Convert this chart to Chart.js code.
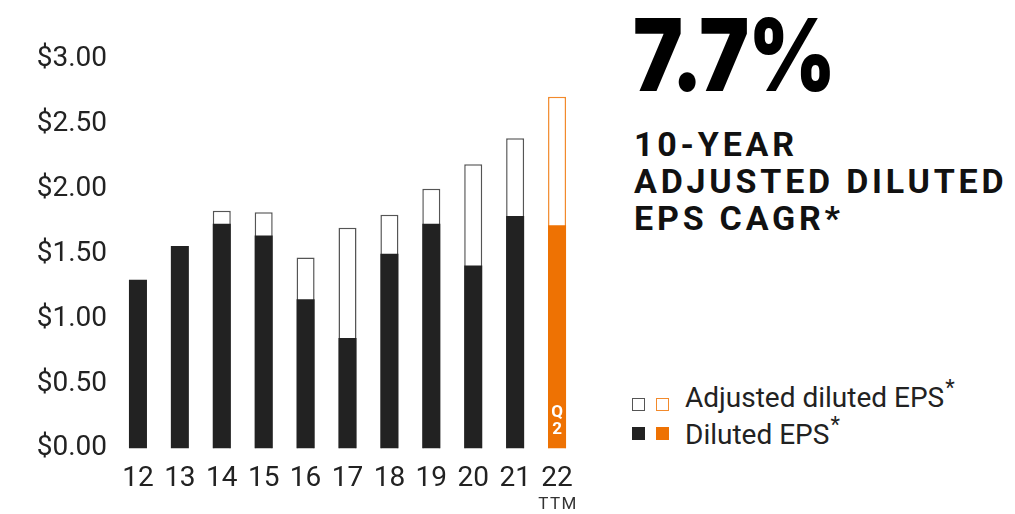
<!DOCTYPE html>
<html>
<head>
<meta charset="utf-8">
<script src="https://cdn.jsdelivr.net/npm/chart.js@4/dist/chart.umd.min.js"></script>
<style>
  html, body { margin:0; padding:0; background:#fff; }
  body { width:1015px; height:514px; position:relative; overflow:hidden; font-family: Roboto, "Noto Sans", sans-serif; color:#222; }
  #wrap { position:absolute; left:0; top:0; width:600px; height:514px; }
  .big { position:absolute; left:633px; top:5px; font-family: Inter, Roboto, sans-serif; font-weight:900; font-size:100px; line-height:100px; letter-spacing:-1px; color:#000; white-space:nowrap; transform:scaleX(0.84); transform-origin:0 0; }
  .sub { position:absolute; left:634px; top:126px; font-family: Roboto, sans-serif; font-weight:700; font-size:34px; line-height:37px; letter-spacing:3.8px; color:#111; white-space:nowrap; }
  .leg { position:absolute; left:685px; font-size:28px; line-height:34px; color:#222; white-space:nowrap; }
  .leg sup { font-size:22px; line-height:0; vertical-align:0; position:relative; top:-12px; left:1px; }
  .box { position:absolute; width:13px; height:13px; box-sizing:border-box; }
</style>
</head>
<body>
<div id="wrap"><canvas id="c"></canvas></div>
<div class="big">7.7%</div>
<div class="sub">10-YEAR<br>ADJUSTED DILUTED<br>EPS CAGR*</div>
<div class="box" style="left:632px;top:398px;border:1.5px solid #555;"></div>
<div class="box" style="left:656px;top:398px;border:1.5px solid #f28a2c;"></div>
<div class="box" style="left:632px;top:427px;background:#222;"></div>
<div class="box" style="left:656px;top:427px;background:#ee7203;"></div>
<div class="leg" style="top:381px;">Adjusted diluted EPS<sup>*</sup></div>
<div class="leg" style="top:418px;">Diluted EPS<sup>*</sup></div>
<script>
const categories = ['12','13','14','15','16','17','18','19','20','21','22'];
const dilutedEPS = [1.30, 1.56, 1.73, 1.64, 1.15, 0.85, 1.50, 1.73, 1.41, 1.79, 1.72];
const adjustedEPS = [null, null, 1.83, 1.82, 1.47, 1.70, 1.80, 2.00, 2.19, 2.39, 2.71];
const yTickValues = [0, 0.5, 1.0, 1.5, 2.0, 2.5, 3.0];
const subLabel = 'TTM';
const barNote = ['Q', '2'];

const DARK = '#222222', ORANGE = '#ee7203', GREY_EDGE = '#555555', ORANGE_EDGE = '#f28a2c';
const last = categories.length - 1;

const extras = {
  id: 'extras',
  afterDatasetsDraw(chart) {
    const ctx = chart.ctx;
    const meta = chart.getDatasetMeta(0);
    const bar = meta.data[last];
    ctx.save();
    ctx.fillStyle = '#fff';
    ctx.font = 'bold 17px Roboto';
    ctx.textAlign = 'center';
    ctx.textBaseline = 'middle';
    ctx.fillText(barNote[0], bar.x, bar.base - 36);
    ctx.fillText(barNote[1], bar.x, bar.base - 19);
    const xs = chart.scales.x;
    ctx.fillStyle = '#333';
    ctx.font = '17px Roboto';
    try { ctx.letterSpacing = '1.5px'; } catch(e) {}
    ctx.fillText(subLabel, xs.getPixelForValue(last) + 1, 505);
    ctx.restore();
  }
};

new Chart(document.getElementById('c'), {
  type: 'bar',
  data: {
    labels: categories,
    datasets: [
      {
        label: 'Diluted EPS',
        data: dilutedEPS,
        backgroundColor: categories.map((_, i) => i === last ? ORANGE : DARK),
        borderWidth: 0,
        grouped: false,
        barPercentage: 0.43,
        categoryPercentage: 1.0
      },
      {
        label: 'Adjusted diluted EPS',
        data: adjustedEPS,
        backgroundColor: '#ffffff',
        borderColor: categories.map((_, i) => i === last ? ORANGE_EDGE : GREY_EDGE),
        borderWidth: 1.5,
        grouped: false,
        barPercentage: 0.43,
        categoryPercentage: 1.0
      }
    ]
  },
  options: {
    responsive: true,
    maintainAspectRatio: false,
    animation: false,
    layout: { padding: { top: 59, bottom: 4, left: 0, right: 22 } },
    plugins: { legend: { display: false }, tooltip: { enabled: false } },
    scales: {
      x: {
        grid: { display: false, drawTicks: false },
        border: { display: false },
        ticks: { color: '#222', font: { family: 'Roboto', size: 28 }, padding: 14, maxRotation: 0 }
      },
      y: {
        min: 0, max: 3,
        afterBuildTicks(scale) { scale.ticks = yTickValues.map(v => ({ value: v })); },
        afterFit(scale) { scale.width = 117; },
        grid: { display: false, drawTicks: false },
        border: { display: false },
        ticks: { color: '#222', font: { family: 'Roboto', size: 28 }, padding: 10,
          callback: v => '$' + Number(v).toFixed(2) }
      }
    }
  },
  plugins: [extras]
});
</script>
</body>
</html>
